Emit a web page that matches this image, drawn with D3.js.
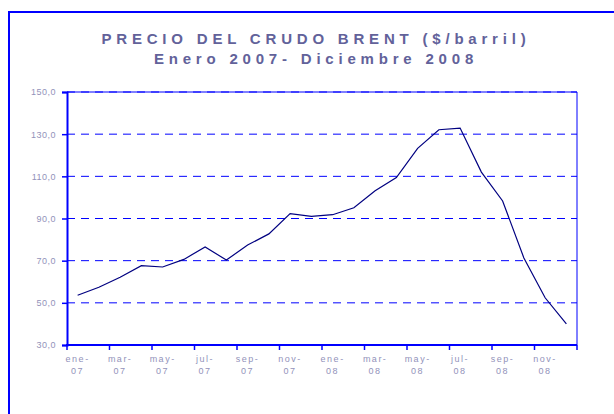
<!DOCTYPE html>
<html>
<head>
<meta charset="utf-8">
<script src="https://cdn.jsdelivr.net/npm/d3@7"></script>
<style>
  body { margin: 0; background: #fff; }
  text { font-family: "Liberation Sans", Arial, sans-serif; }
</style>
</head>
<body>
<script>
// Monthly categories, Jan 2007 - Dec 2008
const months = ["ene-07","feb-07","mar-07","abr-07","may-07","jun-07","jul-07","ago-07","sep-07","oct-07","nov-07","dic-07",
                "ene-08","feb-08","mar-08","abr-08","may-08","jun-08","jul-08","ago-08","sep-08","oct-08","nov-08","dic-08"];

// Brent price ($/barril)
const prices = [53.6, 57.4, 62.1, 67.6, 67.0, 70.6, 76.5, 70.3, 77.4, 82.7, 92.3, 91.0,
                91.8, 95.1, 103.2, 109.4, 123.3, 132.1, 132.9, 112.0, 98.3, 71.3, 52.4, 40.0];

const yTicks = [30, 50, 70, 90, 110, 130, 150];
const titleLines = ["PRECIO DEL CRUDO BRENT ($/barril)", "Enero 2007- Diciembre 2008"];

const W = 614, H = 414;
const plot = {left: 67, right: 577, top: 92, bottom: 345};

const svg = d3.select("body").append("svg")
              .attr("width", W)
              .attr("height", H);

// outer frame (runs off the right and bottom edges)
svg.append("rect")
   .attr("x", 9).attr("y", 12)
   .attr("width", 700).attr("height", 500)
   .attr("fill", "none")
   .attr("stroke", "#0000ff")
   .attr("stroke-width", 2);

// title
svg.selectAll(".title")
   .data(titleLines)
   .enter().append("text")
   .attr("class", "title")
   .attr("x", 316)
   .attr("y", (d, i) => 44 + i * 20)
   .attr("text-anchor", "middle")
   .attr("font-size", "15px")
   .attr("font-weight", "bold")
   .attr("letter-spacing", "4.8px")
   .attr("fill", "#62629a")
   .text(d => d);

// scales
const xScale = d3.scaleBand()
                 .domain(months)
                 .range([plot.left, plot.right]);
const yScale = d3.scaleLinear()
                 .domain([30, 150])
                 .range([plot.bottom, plot.top]);

// gridlines
svg.selectAll(".grid")
   .data(yTicks.filter(d => d > 30))
   .enter().append("line")
   .attr("x1", plot.left).attr("x2", plot.right)
   .attr("y1", d => yScale(d)).attr("y2", d => yScale(d))
   .attr("stroke", "#0000ff")
   .attr("stroke-width", 1)
   .attr("stroke-dasharray", "8,6");

// right and top border
svg.append("path")
   .attr("d", `M${plot.left},${plot.top}H${plot.right}V${plot.bottom}`)
   .attr("fill", "none")
   .attr("stroke", "#0000ff")
   .attr("stroke-width", 1);

// y axis
const yAxis = d3.axisLeft(yScale)
                .tickValues(yTicks)
                .tickSize(5)
                .tickPadding(6)
                .tickFormat(d => d3.format(".1f")(d).replace(".", ","));
const gy = svg.append("g")
              .attr("transform", `translate(${plot.left},0)`)
              .call(yAxis);
gy.select(".domain").attr("stroke", "#0000ff").attr("stroke-width", 2);
gy.selectAll(".tick line").attr("stroke", "#0000ff").attr("stroke-width", 1.5);
gy.selectAll(".tick text")
  .attr("fill", "#9292ba")
  .attr("font-size", "9px")
  .attr("letter-spacing", "0.5px")
  .attr("font-family", "Liberation Sans, Arial, sans-serif");

// x axis: ticks every two months, labels centred on odd months
const tickMonths = months.filter((d, i) => i % 2 === 0);
const gx = svg.append("g");
gx.append("line")
  .attr("x1", plot.left - 1).attr("x2", plot.right)
  .attr("y1", plot.bottom).attr("y2", plot.bottom)
  .attr("stroke", "#0000ff")
  .attr("stroke-width", 2);
gx.selectAll(".xtick")
  .data(tickMonths.map(d => xScale(d)).concat([plot.right]))
  .enter().append("line")
  .attr("x1", d => d).attr("x2", d => d)
  .attr("y1", plot.bottom).attr("y2", plot.bottom + 5)
  .attr("stroke", "#0000ff")
  .attr("stroke-width", 1.5);

const xLabels = gx.selectAll(".xlabel")
  .data(tickMonths)
  .enter().append("text")
  .attr("text-anchor", "middle")
  .attr("font-size", "9px")
  .attr("letter-spacing", "1.5px")
  .attr("fill", "#9292ba");
xLabels.append("tspan")
  .attr("x", d => xScale(d) + xScale.bandwidth() / 2)
  .attr("y", 362)
  .text(d => d.split("-")[0] + "-");
xLabels.append("tspan")
  .attr("x", d => xScale(d) + xScale.bandwidth() / 2)
  .attr("y", 374)
  .text(d => d.split("-")[1]);

// price line
const valueline = d3.line()
                    .x((d, i) => xScale(months[i]) + xScale.bandwidth() / 2)
                    .y(d => yScale(d));
svg.append("path")
   .datum(prices)
   .attr("d", valueline)
   .attr("fill", "none")
   .attr("stroke", "#000080")
   .attr("stroke-width", 1.2);
</script>
</body>
</html>
